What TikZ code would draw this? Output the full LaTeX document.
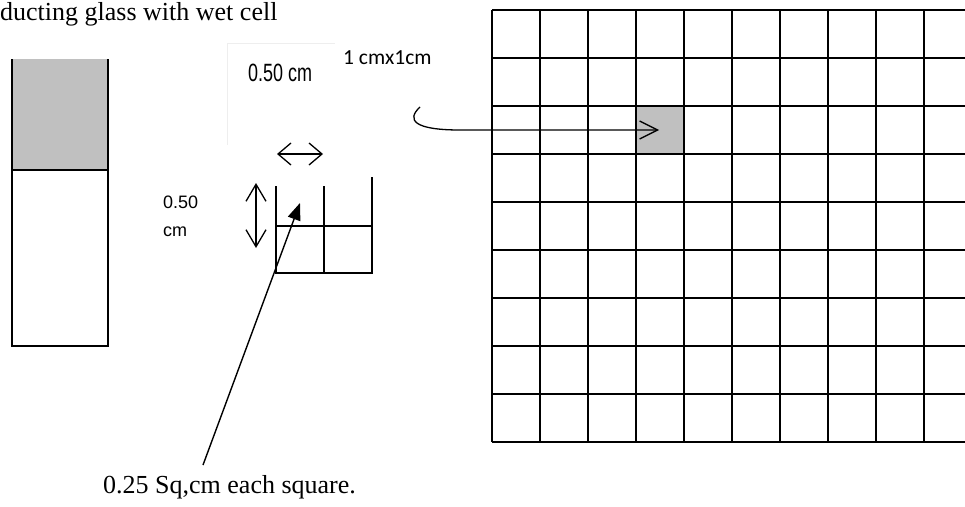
\documentclass[tikz,border=0pt]{standalone}
\usepackage{fontspec}
\setmainfont{Liberation Serif}
\newfontfamily\narrowsans[FakeStretch=0.72]{Liberation Sans}
\newfontfamily\plainsans{Liberation Sans}
\newfontfamily\calibrisub{Carlito}
\usetikzlibrary{arrows.meta}
\definecolor{shadegray}{HTML}{C0C0C0}
\definecolor{faintbox}{HTML}{EEEEEE}
\begin{document}
\begin{tikzpicture}[x=1pt,y=-1pt,
  gridline/.style={line width=1.7pt},
  thinline/.style={line width=1.5pt},
  barbtip/.style={line width=1.3pt,{Straight Barb[length=13pt,width=22pt]}-{Straight Barb[length=13pt,width=22pt]}},
  vbarbtip/.style={line width=1.3pt,{Straight Barb[length=17pt,width=20pt]}-{Straight Barb[length=17pt,width=20pt]}},
  serifbig/.style={anchor=base west,inner sep=0pt,font=\fontsize{26}{30}\selectfont},
  txtlabel/.style={anchor=base west,inner sep=0pt}]
\useasboundingbox (0,0) rectangle (965,506);

% title
\node[serifbig] (title) at (0,20) {ducting glass with wet cell};

% left glass with wet cell
\fill[shadegray] (12,59) rectangle (108,170);
\draw[gridline] (12,59) -- (12,346) -- (108,346) -- (108,59);
\draw[gridline] (12,170) -- (108,170);

% faint text frame
\draw[faintbox,line width=1pt] (227,145) -- (227,43) -- (335,43);

% labels
\node[txtlabel,font=\narrowsans\fontsize{25}{28}\selectfont] (topdim) at (248,81) {0.50 cm};
\node[txtlabel,font=\plainsans\fontsize{18}{21}\selectfont] (leftdimA) at (163,208) {0.50};
\node[txtlabel,font=\plainsans\fontsize{18}{21}\selectfont] (leftdimB) at (163,236) {cm};
\node[txtlabel,font=\calibrisub\fontsize{21.5}{25}\selectfont] (unitlab) at (343,64) {1 cmx1cm};
\node[serifbig] (caption) at (103,493) {0.25 Sq,cm each square.};

% dimension arrows
\coordinate (hA) at (277,154);
\coordinate (hB) at (323,154);
\draw[barbtip] (hA) -- (hB);
\coordinate (vA) at (256,183);
\coordinate (vB) at (256,248);
\draw[vbarbtip] (vA) -- (vB);

% small grid
\draw[thinline] (276,186) -- (276,273) -- (372,273) -- (372,177);
\draw[thinline] (324,186) -- (324,273);
\draw[thinline] (276,226) -- (372,226);

% pointer arrow
\coordinate (pStart) at (203,465);
\coordinate (pEnd) at (300,203);
\draw[line width=1.4pt,-{Triangle[length=17pt,width=13pt]}] (pStart) -- (pEnd);

% big grid
\fill[shadegray] (636,106) rectangle (684,154);
\foreach \j in {0,...,9} {
  \draw[gridline] (492,10+48*\j) -- (965,10+48*\j);
}
\foreach \k in {0,...,9} {
  \draw[gridline] (492+48*\k,10) -- (492+48*\k,442);
}

% curved arrow into the shaded square
\coordinate (cStart) at (420,107);
\coordinate (cEnd) at (659,130);
\draw[line width=1.3pt,-{Straight Barb[length=18pt,width=18pt]}] (cStart) .. controls (406,120) and (414,130) .. (460,130) -- (cEnd);
\end{tikzpicture}
\end{document}
